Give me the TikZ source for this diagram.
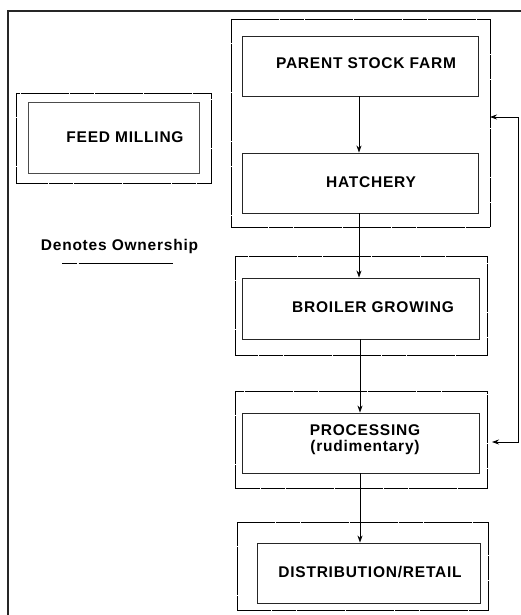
\documentclass[tikz,border=0pt]{standalone}
\usepackage{fontspec}
\setmainfont{Liberation Sans}[LetterSpace=5]
\usetikzlibrary{arrows.meta}
\begin{document}
\begin{tikzpicture}[x=1pt,y=-1pt,
  grp/.style={draw=black,line width=0.9pt,dash pattern=on 24pt off 0.6pt},
  box/.style={draw=black!85,line width=0.9pt},
  lbl/.style={font=\bfseries\fontsize{15.5}{18}\selectfont,align=center},
  arr/.style={-{Stealth[length=7pt,width=5pt]},line width=0.8pt}]
\useasboundingbox (0,0) rectangle (521,615);
\fill[white] (0,0) rectangle (521,615);
% outer frame
\draw[line width=2pt,black!85] (8,625) -- (8,11) -- (530,11);
% feed milling
\draw[grp] (16,93) rectangle (211,183);
\node[box,draw=black!70,minimum width=171pt,minimum height=71pt] (fm) at (113.5,137.5) {};
\node[lbl] at (125,137) {FEED MILLING};
% groups
\draw[grp] (231,19) rectangle (490,227);
\coordinate (g1e) at (490,117);
\draw[grp] (235,256) rectangle (487,355);
\draw[grp] (235,391) rectangle (487,488);
\coordinate (g3e) at (492,442);
\draw[grp] (237,522) rectangle (488,610);
% inner boxes
\node[box,minimum width=236pt,minimum height=60pt] (ps) at (360,66) {};
\node[lbl] at (366,63) {PARENT STOCK FARM};
\node[box,minimum width=236pt,minimum height=60pt] (ha) at (360,183) {};
\node[lbl] at (371,182) {HATCHERY};
\node[box,minimum width=237pt,minimum height=61pt] (bg) at (360.5,308.5) {};
\node[lbl] at (373,307) {BROILER GROWING};
\node[box,minimum width=237pt,minimum height=60pt] (pr) at (360.5,443) {};
\node[lbl] at (365,440) {PROCESSING\\[-2pt](rudimentary)};
\node[box,minimum width=223pt,minimum height=60pt] (dr) at (368.5,573) {};
\node[lbl] at (370,572) {DISTRIBUTION/RETAIL};
% legend
\node[lbl] (leg) at (119.5,246) {Denotes Ownership};
\draw[line width=0.8pt] (62,263) -- (77,263) (78.5,263) -- (173,263);
% arrows
\draw[arr] (ps.south -| 359,0) -- (ha.north -| 359,0);
\draw[arr] (ha.south -| 359,0) -- (bg.north -| 359,0);
\draw[arr] (bg.south -| 360,0) -- (pr.north -| 360,0);
\draw[arr] (pr.south -| 360,0) -- (dr.north -| 360,0);
\draw[arr,{Stealth[length=7pt,width=5pt]}-{Stealth[length=7pt,width=5pt]}] (g1e) -- (518,117) -- (518,442) -- (g3e);
\end{tikzpicture}
\end{document}
